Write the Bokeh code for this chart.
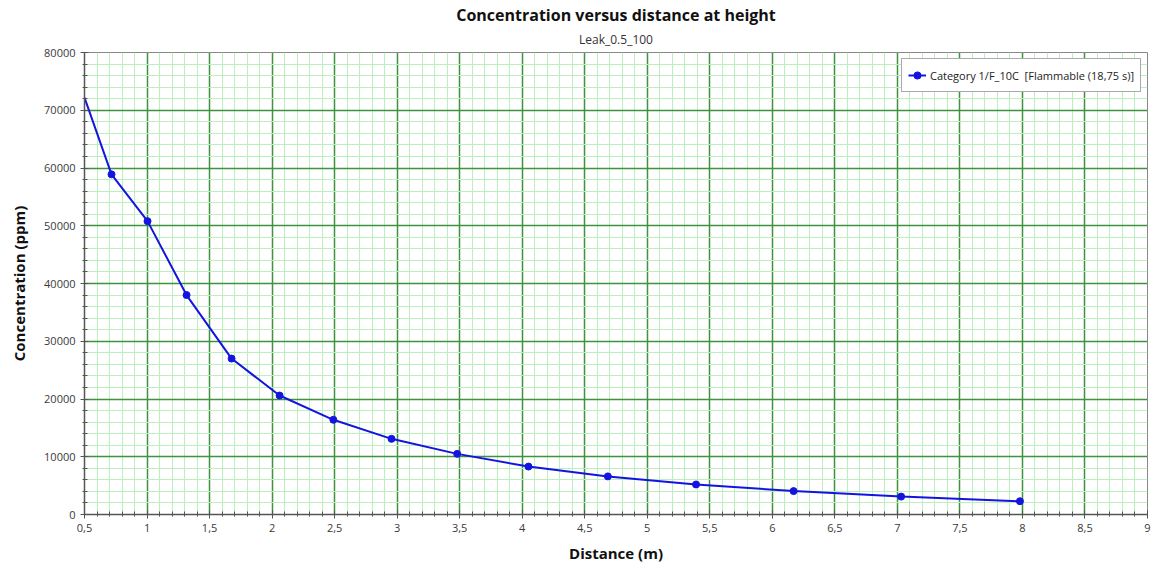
from bokeh.plotting import figure
from bokeh.models import FixedTicker, Title, Range1d
from bokeh.embed import file_html
from bokeh.resources import INLINE

# Concentration profile along the plume at height
distance = [0.5, 0.716, 1.004, 1.316, 1.676, 2.06, 2.49, 2.955, 3.48, 4.05, 4.685, 5.39, 6.17, 7.03, 7.98]
concentration = [72200, 58900, 50800, 38000, 27000, 20600, 16400, 13100, 10500, 8300, 6600, 5200, 4050, 3100, 2300]

x_major = [0.5 + 0.5 * i for i in range(18)]
x_minor = [round(0.5 + 0.1 * i, 2) for i in range(86)]
y_major = [10000 * i for i in range(9)]
y_minor = [2000 * i for i in range(41)]
x_labels = {v: (str(int(v)) if v.is_integer() else str(v).replace(".", ",")) for v in x_major}

FONT = "Open Sans"

p = figure(width=1155, height=568, output_backend="svg", toolbar_location=None,
           x_range=Range1d(0.5, 9), y_range=Range1d(0, 80000),
           min_border_left=84, min_border_right=8, min_border_top=52, min_border_bottom=54,
           background_fill_color="white", border_fill_color="white")

p.title.text = "Concentration versus distance at height"
p.title.align = "center"
p.title.text_font = FONT
p.title.text_font_style = "bold"
p.title.text_font_size = "16px"
p.title.text_color = "#111111"
p.title.standoff = -3
p.title.offset = 0
sub = Title(text="Leak_0.5_100", align="center", text_font=FONT,
            text_font_style="normal", text_font_size="12px", text_color="#333333",
            standoff=9)
p.add_layout(sub, "above")

# grid paper look
p.xgrid.ticker = FixedTicker(ticks=x_major, minor_ticks=x_minor)
p.ygrid.ticker = FixedTicker(ticks=y_major, minor_ticks=y_minor)
for g in (p.xgrid, p.ygrid):
    g.grid_line_color = "#3f933f"
    g.grid_line_width = 1.5
    g.minor_grid_line_color = "#bdeebd"
    g.minor_grid_line_width = 1

p.xaxis.ticker = FixedTicker(ticks=x_major, minor_ticks=x_minor)
p.yaxis.ticker = FixedTicker(ticks=y_major, minor_ticks=y_minor)
p.xaxis.major_label_overrides = x_labels
p.yaxis.formatter.use_scientific = False

for ax in (p.xaxis, p.yaxis):
    ax.axis_line_color = "#555555"
    ax.axis_line_width = 1.5
    ax.major_tick_line_color = "#555555"
    ax.minor_tick_line_color = "#555555"
    ax.major_tick_in = 4
    ax.major_tick_out = 4
    ax.minor_tick_in = 3
    ax.minor_tick_out = 2
    ax.major_label_text_font = FONT
    ax.major_label_text_font_size = "11px"
    ax.major_label_text_color = "#3a3a3a"
    ax.axis_label_text_font = FONT
    ax.axis_label_text_font_style = "bold"
    ax.axis_label_text_font_size = "15px"
    ax.axis_label_text_color = "#111111"

p.xaxis.axis_label = "Distance (m)"
p.yaxis.axis_label = "Concentration (ppm)"
p.yaxis.major_label_orientation = "horizontal"
p.xaxis.axis_label_standoff = 8
p.yaxis.axis_label_standoff = 12

p.outline_line_color = "#888888"
p.outline_line_width = 1

label = "Category 1/F_10C  [Flammable (18,75 s)]"
p.line(distance, concentration, line_color="#1414e0", line_width=2, legend_label=label)
p.scatter(distance[1:], concentration[1:], marker="circle", size=7,
          fill_color="#1414e0", line_color="#1414e0", legend_label=label)

p.legend.location = "top_right"
p.legend.margin = 6
p.legend.padding = 6
p.legend.border_line_color = "#555555"
p.legend.border_line_width = 1.5
p.legend.label_text_font = FONT
p.legend.label_text_font_size = "11px"
p.legend.label_text_color = "#222222"
p.legend.glyph_width = 18
p.legend.label_standoff = 4
p.legend.background_fill_alpha = 1

open("out.html", "w").write(file_html(p, INLINE))
